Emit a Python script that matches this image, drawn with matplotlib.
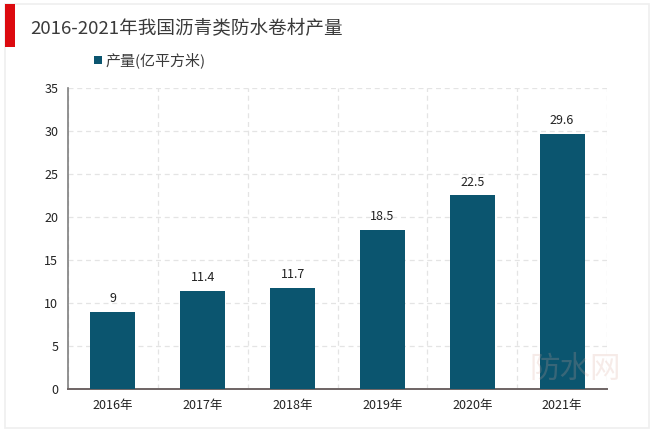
import matplotlib
matplotlib.use("Agg")
import matplotlib.pyplot as plt
from matplotlib.patches import Rectangle

plt.rcParams['font.family'] = ['Noto Sans CJK SC', 'DejaVu Sans']

W, H = 654, 432
title = "2016-2021年我国沥青类防水卷材产量"
series_name = "产量(亿平方米)"
watermark = "防水网"
years = ["2016年", "2017年", "2018年", "2019年", "2020年", "2021年"]
values = [9, 11.4, 11.7, 18.5, 22.5, 29.6]
value_labels = ["9", "11.4", "11.7", "18.5", "22.5", "29.6"]
yticks = [0, 5, 10, 15, 20, 25, 30, 35]

bar_color = "#0B556F"
text_color = "#3A3A3A"

fig = plt.figure(figsize=(W/100, H/100), dpi=100, facecolor="white")

# outer light frame and red accent
fig.add_artist(Rectangle((5/W, 1-428/H), 644/W, 424/H, transform=fig.transFigure,
                         fill=False, ec="#EFEFEF", lw=1.2))
fig.add_artist(Rectangle((5/W, 1-47/H), 10/W, 43/H, transform=fig.transFigure,
                         fc="#DC0A0F", ec="none"))

ax = fig.add_axes([68/W, 1-389/H, 539/W, 301/H])
x = list(range(len(years)))
ax.bar(x, values, width=0.5, color=bar_color, zorder=3, label=series_name)
ax.set_xlim(-0.5, 5.5)
ax.set_ylim(0, 35)
ax.set_yticks(yticks)
ax.set_xticks(x)
ax.set_xticklabels(years)
ax.tick_params(axis="both", length=0, labelsize=9, labelcolor="#222222")
ax.tick_params(axis="x", pad=7)
ax.tick_params(axis="y", pad=7)

# dashed grid: horizontal at value ticks, vertical at category boundaries
ax.yaxis.grid(True, ls=(0, (4, 3)), color="#E4E4E4", lw=0.9, zorder=0)
ax.set_xticks([i + 0.5 for i in range(-1, 6)], minor=True)
ax.tick_params(axis="x", which="minor", length=0)
ax.xaxis.grid(True, which="minor", ls=(0, (4, 3)), color="#E4E4E4", lw=0.9, zorder=0)

for s in ("top", "right"):
    ax.spines[s].set_visible(False)
ax.spines["left"].set_color("#7F7F7F")
ax.spines["left"].set_linewidth(1.2)
ax.spines["bottom"].set_color("#6E6464")
ax.spines["bottom"].set_linewidth(1.4)

for xi, v, lab in zip(x, values, value_labels):
    ax.annotate(lab, (xi, v), xytext=(0, 5), textcoords="offset points",
                ha="center", va="bottom", fontsize=9, color="#222222")

fig.text(30/W, 1-28/H, title, fontsize=13.4, color=text_color, va="center", ha="left")

fig.add_artist(Rectangle((94/W, 1-64/H), 8/W, 8/H, transform=fig.transFigure,
                         fc=bar_color, ec="none"))
fig.text(106/W, 1-60/H, series_name, fontsize=10.8, color=text_color, va="center", ha="left")

# faint watermark, lower right
fig.text(575/W, 1-369/H, watermark, fontsize=22, color="#D9A79A", alpha=0.22,
         va="center", ha="center", zorder=10)

fig.savefig("out.png", dpi=100)
